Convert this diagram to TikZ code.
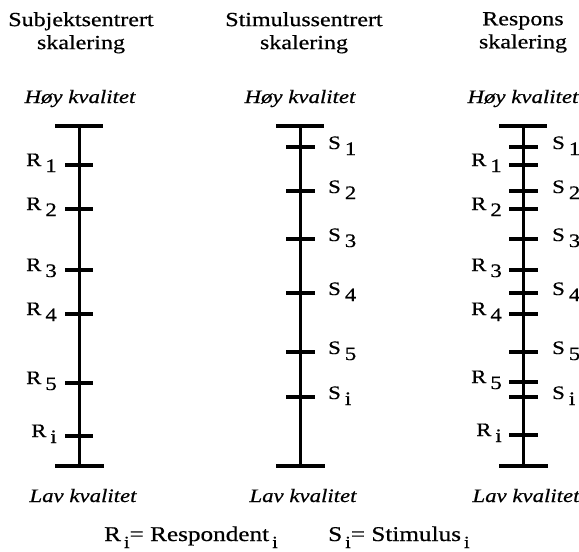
\documentclass[tikz,border=0pt]{standalone}
\usepackage{fontspec}
\setmainfont{Liberation Serif}[FakeStretch=1.2,FakeBold=0.6]
\newcommand{\lsub}[1]{\hspace{4pt}\raisebox{-6pt}{#1}}
\newcommand{\fsub}[1]{\hspace{3pt}\raisebox{-7pt}{\fontsize{17}{18}\selectfont #1}}
\begin{document}
\begin{tikzpicture}[x=1pt,y=-1pt]
\tikzset{
  axisline/.style={line width=3pt},
  endbar/.style={line width=3.2pt},
  tickmark/.style={line width=3.2pt},
  lbl/.style={font=\fontsize{19}{22}\selectfont, inner sep=0pt},
  leg/.style={font=\fontsize{21}{22}\selectfont, inner sep=0pt, anchor=base west},
  ttl/.style={font=\fontsize{20}{23}\selectfont, inner sep=0pt, align=center, anchor=north},
  qual/.style={font=\fontsize{19}{22}\selectfont\itshape, inner sep=0pt, anchor=base},
}
\useasboundingbox (0,0) rectangle (579,552);
% titles
\node[ttl] (t1) at (81,12) {Subjektsentrert\\skalering};
\node[ttl] (t2) at (304,12) {Stimulussentrert\\skalering};
\node[ttl] (t3) at (523,12) {Respons\\skalering};
% quality labels
\node[qual] (h1) at (80,103) {Høy kvalitet};
\node[qual] (h2) at (300,103) {Høy kvalitet};
\node[qual] (h3) at (523,103) {Høy kvalitet};
\node[qual] (l1) at (83,502) {Lav kvalitet};
\node[qual] (l2) at (303,502) {Lav kvalitet};
\node[qual] (l3) at (526,502) {Lav kvalitet};
% axes
\foreach \c/\x in {a/79,b/300,c/523}{
  \coordinate (\c top) at (\x,126);
  \coordinate (\c bot) at (\x,466);
  \draw[axisline] (\c top) -- (\c bot);
  \draw[endbar] ([xshift=-24pt]\c top) -- ([xshift=24pt]\c top);
  \draw[endbar] ([xshift=-24pt]\c bot) -- ([xshift=25pt]\c bot);
}
% left: respondents
\foreach \y/\t/\n in {165/1/1,209/2/2,270/3/3,314/4/4,383/5/5,436/i/6}{
  \coordinate (ar\n) at (79,\y);
  \draw[tickmark] ([xshift=-14pt]ar\n) -- ([xshift=14pt]ar\n);
  \node[lbl, anchor=base east] (arl\n) at ([xshift=-22pt,yshift=-1pt]ar\n) {R\lsub{\t}};
}
% middle: stimuli
\foreach \y/\t/\n in {147/1/1,191/2/2,239/3/3,293/4/4,352/5/5,397/i/6}{
  \coordinate (bs\n) at (300,\y);
  \draw[tickmark] ([xshift=-14pt]bs\n) -- ([xshift=15pt]bs\n);
  \node[lbl, anchor=base west] (bsl\n) at ([xshift=28pt,yshift=-2pt]bs\n) {S\lsub{\t}};
}
% right: both
\foreach \y/\t/\n in {147/1/1,191/2/2,239/3/3,293/4/4,352/5/5,397/i/6}{
  \coordinate (cs\n) at (523,\y);
  \draw[tickmark] ([xshift=-14pt]cs\n) -- ([xshift=15pt]cs\n);
  \node[lbl, anchor=base west] (csl\n) at ([xshift=29pt,yshift=-2pt]cs\n) {S\lsub{\t}};
}
\foreach \y/\t/\n in {165/1/1,209/2/2,270/3/3,314/4/4,382/5/5,435/i/6}{
  \coordinate (cr\n) at (523,\y);
  \draw[tickmark] ([xshift=-14pt]cr\n) -- ([xshift=15pt]cr\n);
  \node[lbl, anchor=base east] (crl\n) at ([xshift=-21pt,yshift=-1pt]cr\n) {R\lsub{\t}};
}
% legend
\node[leg] (legR) at (104,541) {R\fsub{i}= Respondent\fsub{i}};
\node[leg] (legS) at (328,541) {S\fsub{i}= Stimulus\fsub{i}};
\end{tikzpicture}
\end{document}
